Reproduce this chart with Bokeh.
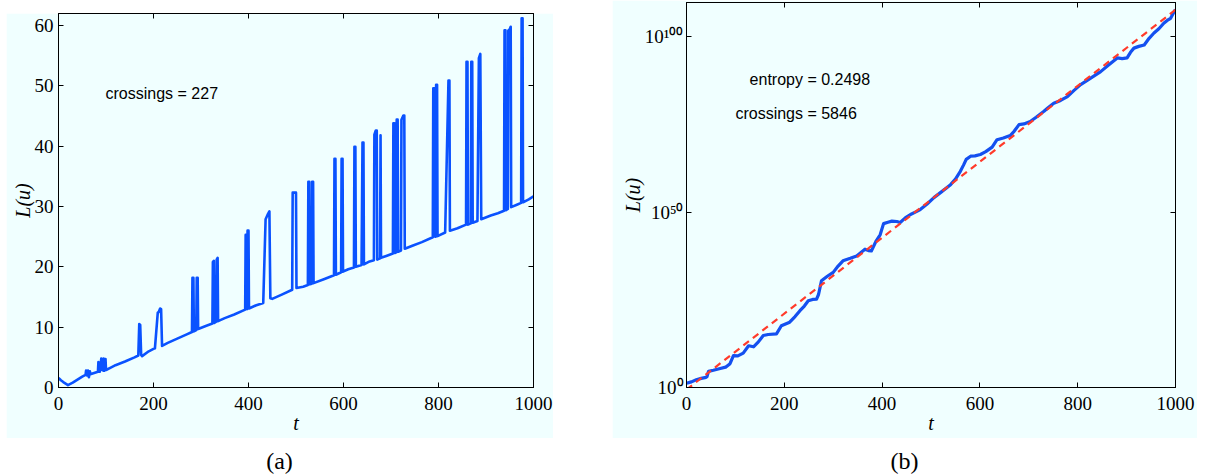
from bokeh.plotting import figure
from bokeh.models import (Range1d, FixedTicker, LinearAxis, LogAxis, Label, Div, Spacer,
                          CustomJSTickFormatter)
from bokeh.layouts import row, column
from bokeh.embed import file_html
from bokeh.resources import INLINE

# ---------------- data: panel (a) ----------------
t_a = [0, 5, 10, 20, 30, 40, 50,
       57, 58, 60, 62, 64, 66, 67, 75, 83,
       84, 86, 87, 90, 91, 94, 95, 97, 99, 100,
       110, 120, 140, 160, 168,
       170, 172, 174, 176, 190, 200, 203,
       209, 211, 214, 216, 218, 230, 250, 270, 281,
       282, 284, 285, 290, 291, 293, 294, 310, 324,
       325, 327, 328, 332, 333, 335, 336, 350, 370, 393,
       394, 396, 397, 398, 400, 401, 415, 431,
       436, 440, 444, 446, 450, 470, 492,
       493, 500, 501, 515, 525,
       526, 528, 529, 533, 534, 536, 537, 560, 580,
       581, 583, 584, 595, 596, 598, 599, 610, 622,
       623, 625, 626, 638, 640, 642, 643, 655, 664,
       665, 668, 670, 671, 677, 678, 679, 690, 704,
       705, 707, 708, 711, 712, 714, 715, 721, 722, 726, 728, 729, 745, 765, 788,
       789, 791, 793, 794, 795, 797, 798, 814,
       821, 823, 824, 840, 858,
       859, 861, 862, 868, 869, 871, 872, 882,
       885, 888, 890, 910, 925, 938,
       939, 941, 942, 946, 947, 950, 952, 953, 965, 974,
       975, 977, 978, 990, 1000]
L_a = [1.6, 1.2, 0.9, 0.4, 0.8, 1.3, 1.8,
       2.1, 2.8, 2.0, 2.8, 1.7, 2.7, 2.2, 2.4, 2.6,
       4.2, 4.1, 2.6, 4.8, 3.0, 2.8, 4.8, 2.8, 4.7, 2.9,
       3.3, 3.7, 4.3, 5.0, 5.3,
       10.5, 10.4, 5.4, 5.2, 6.0, 6.4, 6.5,
       12.4, 12.5, 13.1, 13.0, 6.9, 7.4, 8.1, 8.8, 9.2,
       18.2, 18.2, 9.3, 9.5, 18.2, 18.2, 9.7, 10.2, 10.6,
       20.8, 21.0, 10.7, 10.9, 21.2, 21.5, 11.0, 11.5, 12.1, 12.9,
       25.3, 25.3, 13.0, 26.0, 26.0, 13.1, 13.6, 14.0,
       27.9, 28.6, 29.2, 14.8, 14.7, 15.4, 16.2,
       32.3, 32.3, 16.5, 16.7, 17.0,
       34.1, 34.1, 17.1, 17.2, 34.1, 34.1, 17.3, 18.0, 18.6,
       37.9, 37.9, 18.7, 19.1, 37.9, 37.9, 19.2, 19.6, 19.9,
       39.9, 39.9, 20.0, 20.3, 40.6, 40.6, 20.4, 20.9, 21.1,
       41.9, 42.6, 42.6, 21.2, 21.4, 41.8, 21.5, 21.8, 22.2,
       43.8, 43.8, 22.3, 22.4, 44.4, 44.4, 22.5, 22.7, 44.4, 45.1, 45.1, 23.0, 23.5, 24.1, 24.9,
       49.6, 49.6, 25.0, 25.0, 50.2, 50.2, 25.1, 25.7,
       50.9, 50.9, 26.0, 26.4, 27.0,
       54.0, 54.0, 27.0, 27.2, 54.0, 54.0, 27.3, 27.6,
       54.6, 55.3, 27.9, 28.5, 28.9, 29.3,
       59.2, 59.2, 29.4, 29.6, 59.2, 59.4, 59.8, 29.9, 30.3, 30.6,
       61.2, 61.2, 30.7, 31.2, 31.7]

# ---------------- data: panel (b) (log10 of L) ----------------
t_b = [0, 10, 20, 30, 40, 42, 45, 55, 69, 80, 89, 96, 105, 116, 127, 137, 147, 157,
       167, 184, 194, 211, 222, 232, 241, 249, 258, 266, 270, 276, 288, 300, 310,
       320, 335, 348, 365, 372, 378, 388, 396, 403, 412, 420, 430, 437, 448, 458,
       470, 478, 492, 506, 520, 540, 550, 560, 567, 572, 581, 590, 601, 612, 625,
       635, 648, 662, 670, 680, 690, 703, 715, 731, 740, 751, 765, 779, 792, 806,
       825, 847, 865, 881, 891, 901, 908, 915, 925, 936, 946, 956, 966, 976, 983,
       990, 998, 1000]
logL_b = [1.2, 1.6, 2.2, 2.6, 2.9, 3.1, 4.6, 4.9, 5.4, 5.8, 6.8, 9.1, 9.0, 9.8, 11.9,
          11.6, 13.0, 14.8, 15.1, 15.3, 17.6, 18.6, 20.2, 21.9, 23.2, 24.7, 25.1, 25.2,
          26.5, 30.4, 31.7, 32.8, 34.6, 36.1, 36.8, 37.5, 39.4, 39.0, 38.9, 41.8, 43.5,
          46.7, 47.1, 47.4, 47.3, 47.0, 48.4, 49.3, 50.1, 50.7, 52.3, 54.1, 55.6, 57.8,
          59.4, 61.6, 63.5, 65.0, 65.9, 66.0, 66.4, 67.2, 68.5, 70.6, 71.1, 71.8, 73.0,
          74.9, 75.1, 75.8, 77.0, 78.7, 79.8, 81.0, 81.8, 82.9, 84.6, 86.3, 88.0, 90.0,
          92.1, 93.9, 93.7, 93.9, 95.5, 96.7, 97.2, 97.6, 99.5, 101.0, 102.2, 103.8,
          104.6, 105.2, 107.3, 107.6]
t_fit = [0, 1000]
logL_fit = [-0.6, 107.6]

# ticks
x_ticks = [0, 200, 400, 600, 800, 1000]
y_ticks_a = [0, 10, 20, 30, 40, 50, 60]
y_ticks_b_exp = [0, 50, 100]

BG = "#f0ffff"
SERIF = "Liberation Serif"
SANS = "Liberation Sans"


def style_axis(ax):
    ax.major_tick_in = 5
    ax.major_tick_out = 0
    ax.minor_tick_line_color = None
    ax.axis_line_color = "black"
    ax.major_tick_line_color = "black"
    ax.major_label_text_font = SERIF
    ax.major_label_text_font_size = "19px"
    ax.major_label_text_font_style = "normal"
    ax.major_label_text_color = "black"
    ax.axis_label_text_font = SERIF
    ax.axis_label_text_font_style = "italic"
    ax.axis_label_text_font_size = "20px"
    ax.axis_label_text_color = "black"


def blank_axis(ax):
    ax.major_tick_in = 5
    ax.major_tick_out = 0
    ax.minor_tick_line_color = None
    ax.axis_line_color = "black"
    ax.major_tick_line_color = "black"
    ax.formatter = CustomJSTickFormatter(code="return ''")
    ax.major_label_text_font_size = "1px"
    ax.major_label_standoff = 0


# ---------------- panel (a) ----------------
pa = figure(width=547, height=425, x_range=Range1d(0, 1000), y_range=Range1d(0, 62),
            output_backend="svg", toolbar_location=None,
            min_border_left=52, min_border_right=20, min_border_top=0, min_border_bottom=51,
            background_fill_color=BG, border_fill_color=BG, outline_line_color="black")
pa.grid.grid_line_color = None
pa.xaxis.ticker = FixedTicker(ticks=x_ticks)
pa.yaxis.ticker = FixedTicker(ticks=y_ticks_a)
for ax in list(pa.xaxis) + list(pa.yaxis):
    style_axis(ax)
pa.xaxis.axis_label = "t"
pa.yaxis.axis_label = "L(u)"
pa.xaxis.major_label_standoff = 9
pa.xaxis.axis_label_standoff = -1
pa.yaxis.major_label_standoff = 5
pa.yaxis.axis_label_standoff = -2
top_a = LinearAxis(ticker=FixedTicker(ticks=x_ticks))
right_a = LinearAxis(ticker=FixedTicker(ticks=y_ticks_a))
blank_axis(top_a)
blank_axis(right_a)
pa.add_layout(top_a, "above")
pa.add_layout(right_a, "right")

pa.line(t_a, L_a, line_color="#0a52ff", line_width=2.6, line_join="round")
pa.add_layout(Label(x=99, y=48.8, text="crossings = 227", text_font=SANS,
                    text_font_size="16px", text_color="black", text_baseline="alphabetic"))

# ---------------- panel (b) ----------------
sup_fmt = CustomJSTickFormatter(code=r"""
const sup = {"0":"\u2070","1":"\u00b9","2":"\u00b2","3":"\u00b3","4":"\u2074",
             "5":"\u2075","6":"\u2076","7":"\u2077","8":"\u2078","9":"\u2079","-":"\u207b"};
const e = Math.round(Math.log10(tick));
return "10" + String(e).split("").map(c => sup[c]).join("");
""")

pb = figure(width=585, height=438, x_range=Range1d(0, 1000), y_range=Range1d(1.0, 10.0 ** 109.7),
            y_axis_type="log", output_backend="svg", toolbar_location=None,
            min_border_left=74, min_border_right=22, min_border_top=2, min_border_bottom=51,
            background_fill_color=BG, border_fill_color=BG, outline_line_color="black")
pb.grid.grid_line_color = None
pb.xaxis.ticker = FixedTicker(ticks=x_ticks)
y_ticks_b = [10.0 ** e for e in y_ticks_b_exp]
pb.yaxis.ticker = FixedTicker(ticks=y_ticks_b)
pb.yaxis.formatter = sup_fmt
for ax in list(pb.xaxis) + list(pb.yaxis):
    style_axis(ax)
pb.xaxis.axis_label = "t"
pb.yaxis.axis_label = "L(u)"
pb.xaxis.major_label_standoff = 9
pb.xaxis.axis_label_standoff = -1
pb.yaxis.major_label_standoff = 3
pb.yaxis.axis_label_standoff = -2
top_b = LinearAxis(ticker=FixedTicker(ticks=x_ticks))
right_b = LogAxis(ticker=FixedTicker(ticks=y_ticks_b))
blank_axis(top_b)
blank_axis(right_b)
pb.add_layout(top_b, "above")
pb.add_layout(right_b, "right")

pb.line(t_b, [10.0 ** v for v in logL_b], line_color="#1450f0", line_width=3.2, line_join="round")
pb.line(t_fit, [10.0 ** v for v in logL_fit], line_color="#ff3b2b", line_width=2.2,
        line_dash="7 5")
pb.add_layout(Label(x=129, y=10.0 ** 87.9, text="entropy = 0.2498", text_font=SANS,
                    text_font_size="16px", text_color="black", text_baseline="alphabetic"))
pb.add_layout(Label(x=100, y=10.0 ** 78.0, text="crossings = 5846", text_font=SANS,
                    text_font_size="16px", text_color="black", text_baseline="alphabetic"))

# ---------------- captions ----------------
cap_style = "text-align:center;font-family:'Liberation Serif',serif;font-size:24px;padding-top:6px;margin:0;"
div_a = Div(text=f'<div style="{cap_style}width:547px">(a)</div>', width=547, height=38,
            margin=(0, 0, 0, 0))
div_b = Div(text=f'<div style="{cap_style}width:585px">(b)</div>', width=585, height=38,
            margin=(0, 0, 0, 0))

layout = row(Spacer(width=6, height=10),
             column(Spacer(width=547, height=13), pa, div_a),
             Spacer(width=59, height=10),
             column(pb, div_b))

open("out.html", "w").write(file_html(layout, INLINE))
